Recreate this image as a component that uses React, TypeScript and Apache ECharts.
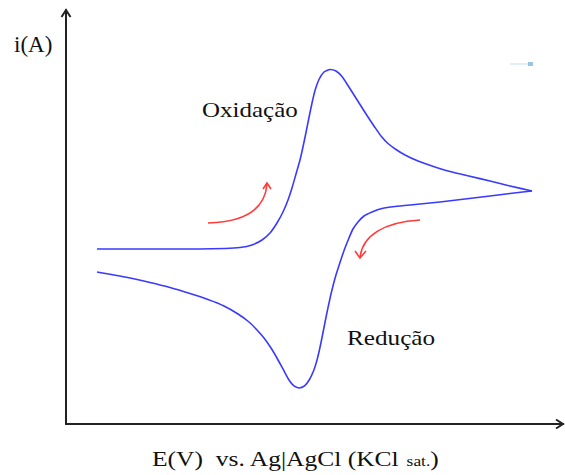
import React, { useEffect, useRef } from "react";
import * as echarts from "echarts";

// Potential (arbitrary units 0..100) and current (arbitrary units 0..100)
const forwardE = [6.24, 12.88, 19.92, 26.96, 31.99, 35.01, 37.42, 39.44, 41.05, 42.45, 43.66, 44.67, 45.47, 46.28, 47.08, 47.68, 48.29, 48.89, 49.5, 50.1, 50.9, 51.91, 53.12, 54.32, 55.53, 56.74, 57.95, 59.35, 60.76, 62.17, 63.38, 64.79, 66.4, 68.21, 70.82, 73.64, 77.26, 81.28, 85.31, 89.33, 93.76];
const forwardI = [42.27, 42.27, 42.27, 42.27, 42.39, 42.63, 43.24, 44.45, 46.14, 48.55, 51.21, 54.11, 57.01, 60.39, 63.77, 66.91, 70.41, 74.04, 77.54, 80.56, 83.21, 85.03, 85.63, 85.27, 83.94, 81.76, 79.47, 76.81, 74.16, 71.62, 69.57, 67.75, 66.31, 64.98, 63.53, 62.32, 60.99, 59.83, 58.7, 57.49, 56.28];
const reverseE = [93.76, 89.33, 85.31, 80.28, 75.25, 70.22, 66.19, 63.58, 61.57, 59.96, 58.75, 57.74, 56.94, 56.13, 55.53, 54.93, 54.32, 53.82, 53.32, 52.92, 52.51, 52.11, 51.71, 51.31, 50.9, 50.4, 49.8, 48.99, 47.99, 46.88, 45.87, 44.87, 43.66, 42.45, 41.25, 39.84, 38.43, 36.82, 34.61, 31.79, 28.57, 24.95, 20.92, 16.9, 11.87, 6.24];
const reverseI = [56.28, 55.68, 55.07, 54.35, 53.62, 53.02, 52.54, 52.05, 51.21, 50.24, 48.79, 47.1, 44.93, 42.51, 40.46, 38.29, 35.99, 33.82, 31.4, 29.23, 26.93, 24.52, 22.1, 19.69, 17.39, 14.98, 12.8, 10.75, 9.18, 8.7, 9.18, 10.63, 13.29, 15.94, 18.36, 20.77, 22.71, 24.64, 26.57, 28.5, 30.07, 31.52, 32.97, 34.18, 35.51, 36.72];

const yLabel = "i(A)";
const xLabelMain = "E(V)  vs. Ag|AgCl (KCl ";
const xLabelSub = "sat.";
const oxLabel = "Oxidação";
const redLabel = "Redução";

const serif = "'Liberation Serif', 'Times New Roman', serif";

export default function App() {
  const ref = useRef<HTMLDivElement>(null);
  useEffect(() => {
    document.body.style.margin = "0";
    if (!ref.current) return;
    const chart = echarts.init(ref.current, null, { renderer: "svg" });
    const red = "#ff3b3b";
    const blue = "#3a3aff";
    chart.setOption({
      animation: false,
      backgroundColor: "#ffffff",
      grid: { left: 66, right: 2, top: 10, bottom: 51 },
      xAxis: {
        type: "value",
        min: 0,
        max: 100,
        axisLine: { show: true, onZero: false, lineStyle: { color: "#222", width: 2 } },
        axisTick: { show: false },
        axisLabel: { show: false },
        splitLine: { show: false },
      },
      yAxis: {
        type: "value",
        min: 0,
        max: 100,
        axisLine: { show: true, onZero: false, lineStyle: { color: "#222", width: 2 } },
        axisTick: { show: false },
        axisLabel: { show: false },
        splitLine: { show: false },
      },
      series: [
        {
          type: "line",
          data: forwardE.map((e, k) => [e, forwardI[k]]),
          showSymbol: false,
          smooth: 0.2,
          lineStyle: { color: blue, width: 1.6, join: "round" },
        },
        {
          type: "line",
          data: reverseE.map((e, k) => [e, reverseI[k]]),
          showSymbol: false,
          smooth: 0.2,
          lineStyle: { color: blue, width: 1.6, join: "round" },
        },
      ],
      graphic: [
        { type: "polyline", shape: { points: [[61.5, 17], [66, 10], [70.5, 17]] }, style: { stroke: "#222", lineWidth: 2, fill: null } },
        { type: "polyline", shape: { points: [[556, 419.5], [563, 424], [556, 428.5]] }, style: { stroke: "#222", lineWidth: 2, fill: null } },
        {
          type: "bezierCurve",
          shape: { x1: 208, y1: 223, cpx1: 245, cpy1: 222, cpx2: 265, cpy2: 210, x2: 267, y2: 184 },
          style: { stroke: red, lineWidth: 1.6, fill: null },
        },
        { type: "polyline", shape: { points: [[263, 189], [267, 183], [271, 189]] }, style: { stroke: red, lineWidth: 1.6, fill: null } },
        {
          type: "bezierCurve",
          shape: { x1: 420, y1: 220, cpx1: 385, cpy1: 222, cpx2: 362, cpy2: 235, x2: 360, y2: 258 },
          style: { stroke: red, lineWidth: 1.6, fill: null },
        },
        { type: "polyline", shape: { points: [[355, 251], [360, 258], [366, 251]] }, style: { stroke: red, lineWidth: 1.6, fill: null } },
        { type: "rect", shape: { x: 510, y: 63, width: 18, height: 2 }, style: { fill: "#e3eef9" } },
        { type: "rect", shape: { x: 528, y: 62, width: 5, height: 4 }, style: { fill: "#9cc3e6" } },
        {
          type: "text",
          x: 14,
          y: 44,
          style: { text: yLabel, font: `23px ${serif}`, fill: "#111", textAlign: "left", textVerticalAlign: "middle" },
        },
        {
          type: "text",
          x: 202,
          y: 110,
          scaleX: 1.19,
          style: { text: oxLabel, font: `21px ${serif}`, fill: "#111", textAlign: "left", textVerticalAlign: "middle" },
        },
        {
          type: "text",
          x: 347,
          y: 338,
          scaleX: 1.2,
          style: { text: redLabel, font: `21px ${serif}`, fill: "#111", textAlign: "left", textVerticalAlign: "middle" },
        },
        {
          type: "text",
          x: 152,
          y: 459,
          scaleX: 1.16,
          style: {
            text: `{m|${xLabelMain}}{s|${xLabelSub}}{m|)}`,
            textAlign: "left",
            textVerticalAlign: "middle",
            rich: {
              m: { fontSize: 22, fontFamily: serif, fill: "#111", color: "#111" },
              s: { fontSize: 15, fontFamily: serif, fill: "#111", color: "#111", padding: [5, 0, 0, 0] },
            },
          },
        },
      ],
    });
    return () => chart.dispose();
  }, []);
  return <div ref={ref} style={{ width: 565, height: 475 }} />;
}
